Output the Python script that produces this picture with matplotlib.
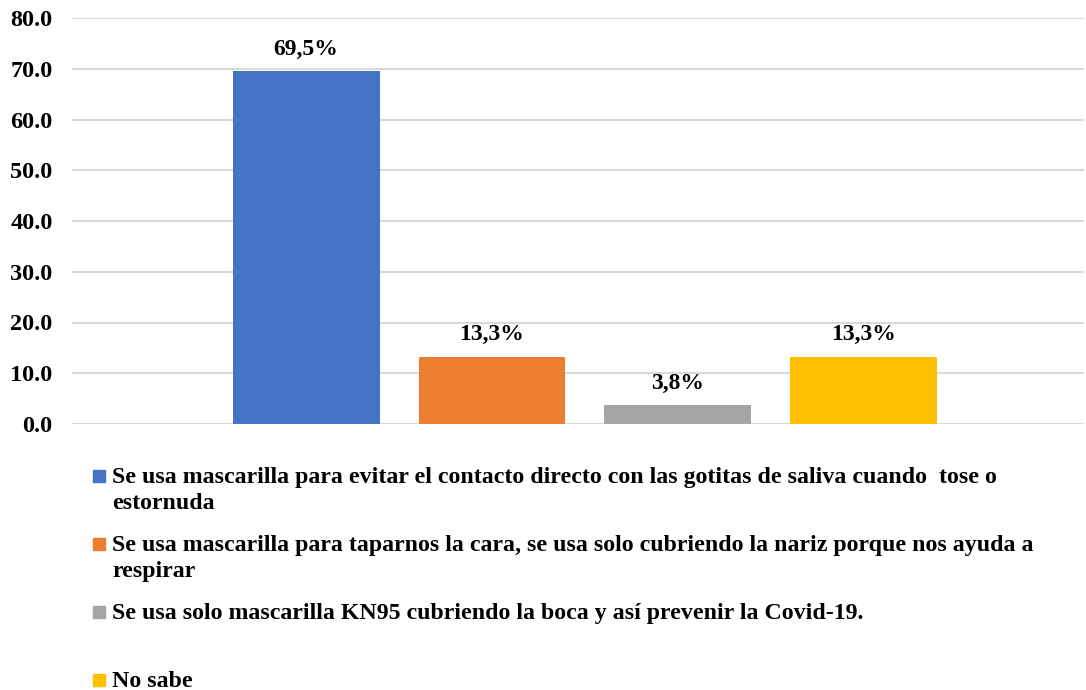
import matplotlib
matplotlib.use("Agg")
import matplotlib.pyplot as plt
from matplotlib.patches import Rectangle
from matplotlib.ticker import FormatStrFormatter

categories = [
    "Se usa mascarilla para evitar el contacto directo con las gotitas de saliva cuando  tose o\nestornuda",
    "Se usa mascarilla para taparnos la cara, se usa solo cubriendo la nariz porque nos ayuda a\nrespirar",
    "Se usa solo mascarilla KN95 cubriendo la boca y así prevenir la Covid-19.",
    "No sabe",
]
values = [69.5, 13.3, 3.8, 13.3]
value_labels = ["69,5%", "13,3%", "3,8%", "13,3%"]
colors = ["#4472C4", "#ED7D31", "#A5A5A5", "#FFC000"]
yticks = [0, 10, 20, 30, 40, 50, 60, 70, 80]

plt.rcParams['font.family'] = ['Liberation Serif', 'DejaVu Serif']
plt.rcParams['font.weight'] = 'bold'

W, H = 1086, 690
fig = plt.figure(figsize=(W / 100, H / 100), dpi=100)
ax = fig.add_axes([72 / W, (H - 424) / H, (1084 - 72) / W, (424 - 18) / H])

x = list(range(len(values)))
ax.bar(x, values, width=0.79, color=colors, zorder=3)
for xi, v, lab in zip(x, values, value_labels):
    ax.annotate(lab, (xi, v), xytext=(0, 8), textcoords="offset points",
                ha="center", va="bottom", fontsize=17, fontweight="bold")

ax.set_xlim(-1.26, 3 + 1.185)
ax.set_ylim(0, 80)
ax.set_yticks(yticks)
ax.yaxis.set_major_formatter(FormatStrFormatter("%.1f"))
ax.set_xticks([])
ax.grid(axis="y", color="#D9D9D9", linewidth=1.5, zorder=0)
for s in ax.spines.values():
    s.set_visible(False)
ax.tick_params(axis="y", length=0, pad=14, labelsize=17.5)
for t in ax.get_yticklabels():
    t.set_fontweight("bold")

# legend (manual layout, below plot)
y_centers = [476, 544, 612, 680]
for cat, col, yc in zip(categories, colors, y_centers):
    fig.patches.append(Rectangle((93 / W, (H - yc - 6) / H), 12 / W, 12 / H,
                                 transform=fig.transFigure, color=col, figure=fig))
    fig.text(112 / W, (H - yc + 9) / H, cat, ha="left", va="top",
             fontsize=17.2, fontweight="bold", linespacing=1.3)

fig.savefig("out.png", dpi=100)
